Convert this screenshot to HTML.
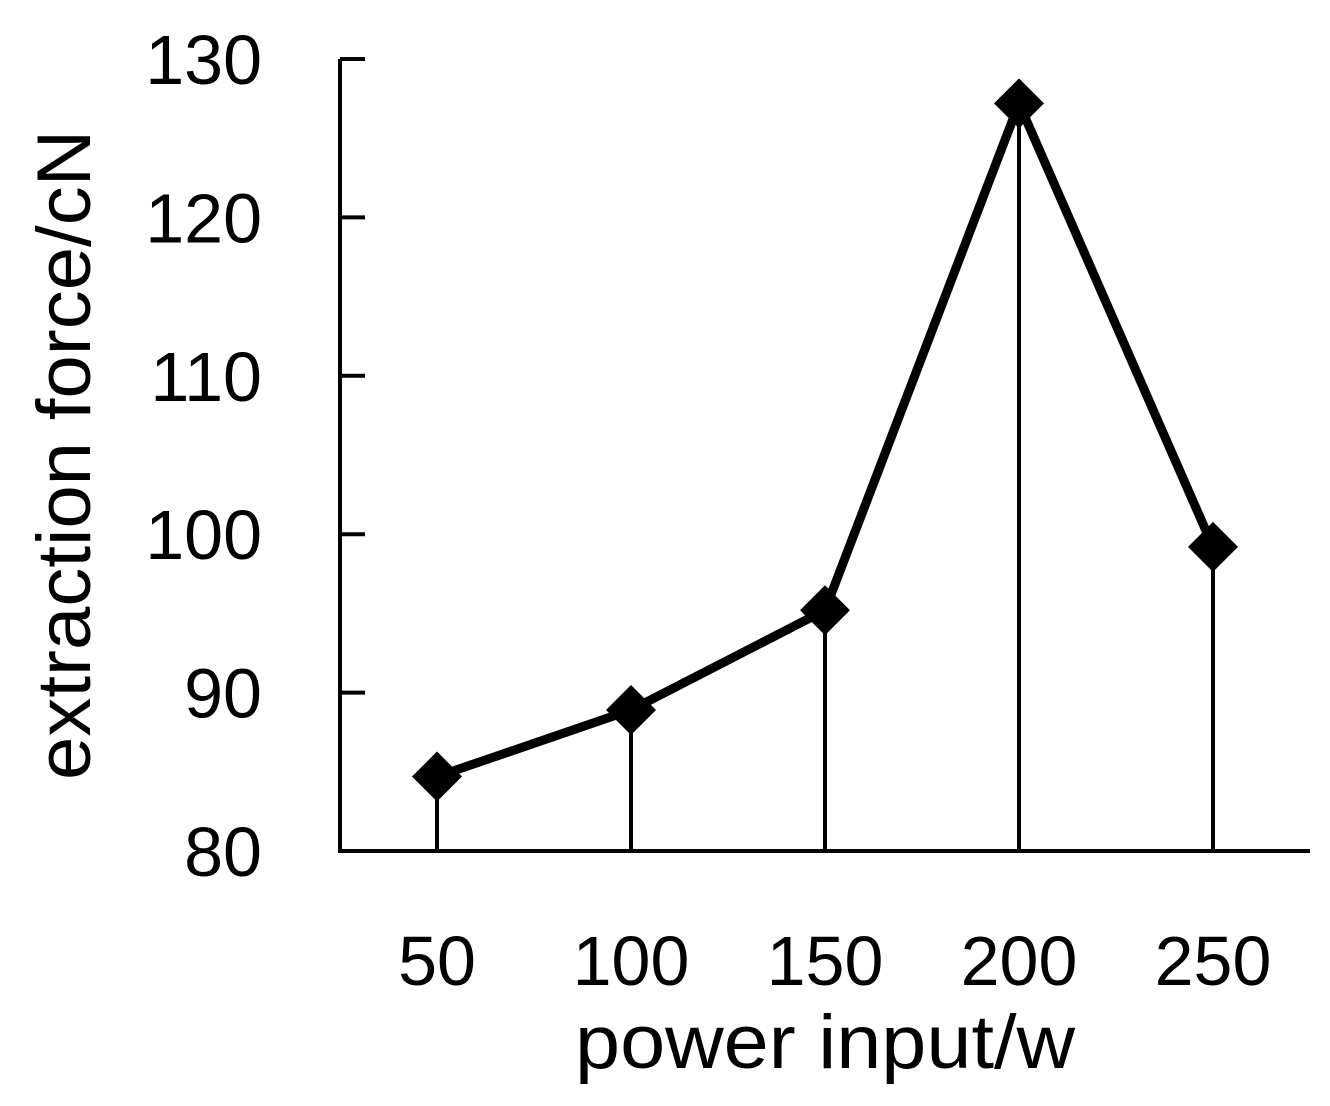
<!DOCTYPE html>
<html><head><meta charset="utf-8"><style>
html,body{margin:0;padding:0;background:#fff;}
svg text{font-family:"Liberation Sans",sans-serif;fill:#000;}
</style></head><body>
<svg id="chart" width="1330" height="1101"></svg>
<script>
const categories = ["50","100","150","200","250"];
const values = [84.7, 88.9, 95.2, 127.2, 99.2];
const yTicks = [80, 90, 100, 110, 120, 130];

const NS = "http://www.w3.org/2000/svg";
const svg = document.getElementById("chart");
const x0 = 340, x1 = 1310, yBottom = 851, yTop = 59;
const yMin = 80, yMax = 130;
const band = (x1 - x0) / categories.length;
function xScale(i){ return x0 + band * (i + 0.5); }
function yScale(v){ return yBottom - (v - yMin) / (yMax - yMin) * (yBottom - yTop); }
function mk(tag, attrs){ const e = document.createElementNS(NS, tag); for (const k in attrs) e.setAttribute(k, attrs[k]); svg.appendChild(e); return e; }

let a = mk("line",{x1:x0,y1:yTop,x2:x0,y2:yBottom,stroke:"#000","stroke-width":4});


a = mk("line",{x1:x0-2,y1:yBottom,x2:x1,y2:yBottom,stroke:"#000","stroke-width":4});



yTicks.forEach(t => {
  const y = yScale(t);
  const tk = mk("line",{x1:x0,y1:y,x2:x0+25,y2:y,stroke:"#000","stroke-width":4});
  
  
  const lb = mk("text",{x:262,y:y+25,"text-anchor":"end","font-size":70});
  lb.textContent = t;
  
  
});

categories.forEach((c, i) => {
  const lb = mk("text",{x:xScale(i),y:985,"text-anchor":"middle","font-size":70});
  lb.textContent = c;
  
  
  const dl = mk("line",{x1:xScale(i),y1:yScale(values[i]),x2:xScale(i),y2:yBottom,stroke:"#000","stroke-width":4});
  
  
});

const pts = values.map((v,i) => xScale(i)+","+yScale(v)).join(" ");
const pl = mk("polyline",{points:pts,fill:"none",stroke:"#000","stroke-width":9,"stroke-linejoin":"round"});



values.forEach((v,i) => {
  const cx = xScale(i), cy = yScale(v), r = 25;
  const d = mk("polygon",{points:`${cx},${cy-r} ${cx+r},${cy} ${cx},${cy+r} ${cx-r},${cy}`,fill:"#000"});
  
  
});

let t = mk("text",{x:825,y:1068,"text-anchor":"middle","font-size":76,textLength:500,lengthAdjust:"spacingAndGlyphs"});
t.textContent = "power input/w";


t = mk("text",{x:0,y:0,"text-anchor":"middle","font-size":76,textLength:650,lengthAdjust:"spacingAndGlyphs",transform:"translate(90,455) rotate(-90)"});
t.textContent = "extraction force/cN";


</script>
</body></html>
